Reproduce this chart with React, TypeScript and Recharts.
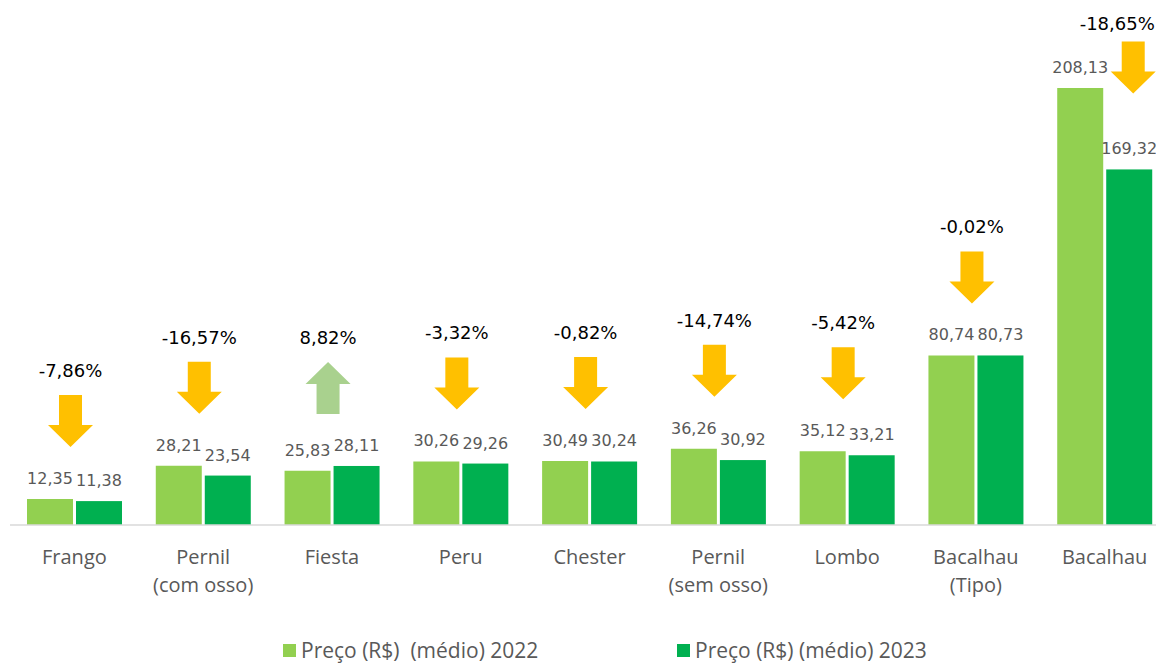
import { Bar, BarChart, LabelList, XAxis, YAxis } from 'recharts'

const categories = [
  'Frango',
  'Pernil\n(com osso)',
  'Fiesta',
  'Peru',
  'Chester',
  'Pernil\n(sem osso)',
  'Lombo',
  'Bacalhau\n(Tipo)',
  'Bacalhau',
]
const preco2022 = [12.35, 28.21, 25.83, 30.26, 30.49, 36.26, 35.12, 80.74, 208.13]
const preco2023 = [11.38, 23.54, 28.11, 29.26, 30.24, 30.92, 33.21, 80.73, 169.32]
const variacao = [-7.86, -16.57, 8.82, -3.32, -0.82, -14.74, -5.42, -0.02, -18.65]
const seriesNames = ['Preço (R$)  (médio) 2022', 'Preço (R$) (médio) 2023']

const data = categories.map((name, i) => ({
  name,
  p2022: preco2022[i],
  p2023: preco2023[i],
  pct: variacao[i],
}))

const LIGHT = '#92D050'
const DARK = '#00B050'
const GRAY = '#595959'
const fmt = (v: number) => v.toFixed(2).replace('.', ',')

function arrowPoints(cx: number, top: number, up: boolean) {
  const sh = 11.5
  const hh = 22.5
  if (up) {
    return [
      [cx, top], [cx + hh, top + 22], [cx + sh, top + 22], [cx + sh, top + 52],
      [cx - sh, top + 52], [cx - sh, top + 22], [cx - hh, top + 22],
    ].map((p) => p.join(',')).join(' ')
  }
  return [
    [cx - sh, top], [cx + sh, top], [cx + sh, top + 30], [cx + hh, top + 30],
    [cx, top + 52], [cx - hh, top + 30], [cx - sh, top + 30],
  ].map((p) => p.join(',')).join(' ')
}

// bar for 2023 that also draws the variation arrow and percent above the group
function BarWithArrow(props: any) {
  const { x, y, width, height, payload, fill } = props
  const base = y + height
  const k = height / payload.p2023
  const top1 = base - payload.p2022 * k
  const top2 = y
  const groupTop = Math.min(top1, top2)
  const up = payload.pct > 0
  let cx = x - 1.5 - 4
  let labelX = cx
  let arrowTop = groupTop - 52 - 52
  let labelY = arrowTop - 18
  if (groupTop - 129 < 20) {
    // no room above the taller bar: put it over the smaller one
    cx = x + width / 2 + 4
    labelX = x + width / 2 - 12
    arrowTop = top2 - 76 - 52
    labelY = arrowTop - 11
  }
  return (
    <g>
      <rect x={x} y={y} width={width} height={height} fill={fill} />
      <polygon points={arrowPoints(cx, arrowTop, up)} fill={up ? '#A9D18E' : '#FFC000'} />
      <text
        x={labelX}
        y={labelY}
        textAnchor="middle"
        fontSize={18}
        fontFamily="DejaVu Sans"
        fill="#000"
      >
        {fmt(payload.pct) + '%'}
      </text>
    </g>
  )
}

function CategoryTick(props: any) {
  const { x, y, payload } = props
  const lines = String(payload.value).split('\n')
  return (
    <text x={x} y={y} textAnchor="middle" fontSize={20} fontFamily="Open Sans" fill={GRAY}>
      {lines.map((l, i) => (
        <tspan key={i} x={x} dy={i === 0 ? 31 : 28}>
          {l}
        </tspan>
      ))}
    </text>
  )
}

export default function App() {
  const legendLeft = [283, 677]
  const legendColors = [LIGHT, DARK]
  return (
    <div
      style={{
        position: 'absolute',
        left: 0,
        top: 0,
        width: 1156,
        height: 664,
        overflow: 'hidden',
        background: '#fff',
      }}
    >
      <BarChart
        width={1180}
        height={664}
        data={data}
        margin={{ top: 0, left: 10, right: 11, bottom: 79 }}
        barCategoryGap={17}
        barGap={3}
      >
        <XAxis
          dataKey="name"
          height={60}
          axisLine={{ stroke: '#D9D9D9', strokeWidth: 1.5 }}
          tickLine={false}
          interval={0}
          tick={<CategoryTick />}
        />
        <YAxis hide domain={[0, 250]} />
        <Bar dataKey="p2022" fill={LIGHT} isAnimationActive={false}>
          <LabelList
            dataKey="p2022"
            position="top"
            offset={15}
            formatter={(v: any) => fmt(Number(v))}
            fill={GRAY}
            fontSize={16}
            fontFamily="DejaVu Sans"
          />
        </Bar>
        <Bar dataKey="p2023" fill={DARK} isAnimationActive={false} shape={<BarWithArrow />}>
          <LabelList
            dataKey="p2023"
            position="top"
            offset={15}
            formatter={(v: any) => fmt(Number(v))}
            fill={GRAY}
            fontSize={16}
            fontFamily="DejaVu Sans"
          />
        </Bar>
      </BarChart>
      {seriesNames.map((s, i) => (
        <div
          key={s}
          style={{
            position: 'absolute',
            left: legendLeft[i],
            top: 639,
            display: 'flex',
            alignItems: 'center',
            fontFamily: 'Open Sans',
            fontSize: 21,
            lineHeight: '22px',
            color: GRAY,
            whiteSpace: 'pre',
          }}
        >
          <span style={{ width: 13, height: 13, background: legendColors[i], marginRight: 5 }} />
          {s}
        </div>
      ))}
    </div>
  )
}
